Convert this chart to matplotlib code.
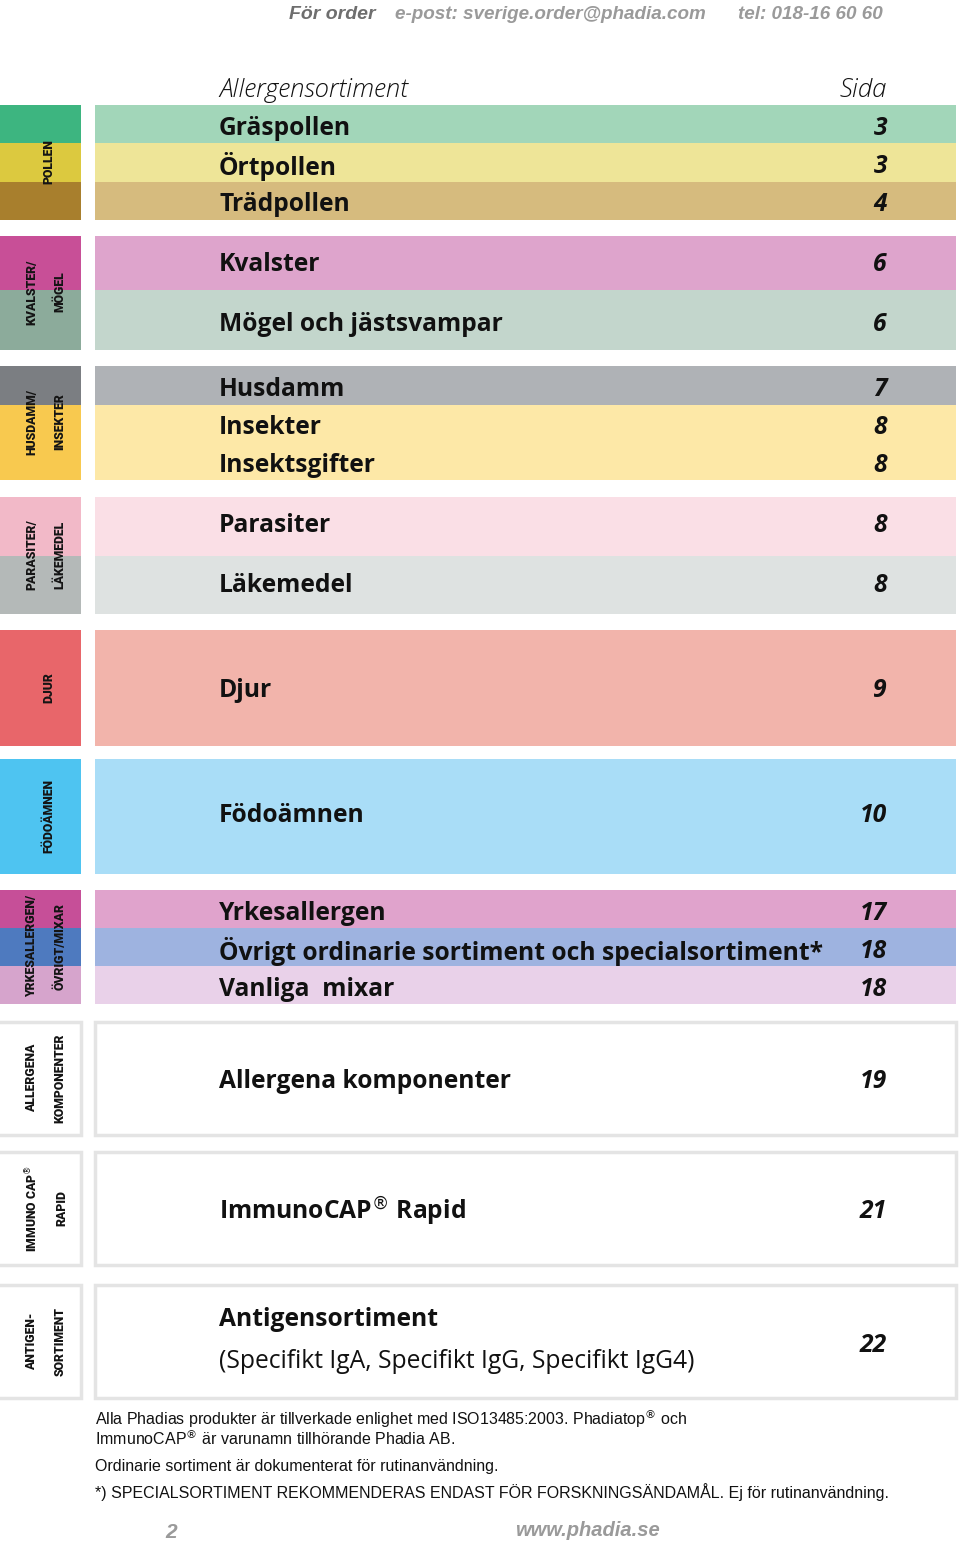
import matplotlib
matplotlib.use("Agg")
import matplotlib.pyplot as plt
from matplotlib.patches import Rectangle

# ---- data ----
group_labels = ['POLLEN', 'KVALSTER/\nMÖGEL', 'HUSDAMM/\nINSEKTER', 'PARASITER/\nLÄKEMEDEL',
                'DJUR', 'FÖDOÄMNEN', 'YRKESALLERGEN/\nÖVRIGT/MIXAR', 'ALLERGENA\nKOMPONENTER',
                'IMMUNO CAP$^{®}$\nRAPID', 'ANTIGEN-\nSORTIMENT']
item_names = ['Gräspollen', 'Örtpollen', 'Trädpollen', 'Kvalster', 'Mögel och jästsvampar',
              'Husdamm', 'Insekter', 'Insektsgifter', 'Parasiter', 'Läkemedel', 'Djur',
              'Födoämnen', 'Yrkesallergen', 'Övrigt ordinarie sortiment och specialsortiment*',
              'Vanliga  mixar', 'Allergena komponenter', 'ImmunoCAP$^{®}$ Rapid', 'Antigensortiment']
item_pages = ['3', '3', '4', '6', '6', '7', '8', '8', '8', '8', '9', '10', '17', '18', '18', '19', '21', '22']
antigen_sub = '(Specifikt IgA, Specifikt IgG, Specifikt IgG4)'

footer_lines = ['Alla Phadias produkter är tillverkade enlighet med ISO13485:2003. Phadiatop$^{®}$ och',
                'ImmunoCAP$^{®}$ är varunamn tillhörande Phadia AB.',
                'Ordinarie sortiment är dokumenterat för rutinanvändning.',
                '*) SPECIALSORTIMENT REKOMMENDERAS ENDAST FÖR FORSKNINGSÄNDAMÅL. Ej för rutinanvändning.']

# ---- layout (pixel coordinates) ----
# colour bands per group: (top, bottom, tab colour, main colour)
bands = [
    [(105, 143, '#3db580', '#a2d6b9'), (143, 182, '#dcc93f', '#eee598'), (182, 220, '#a87f2d', '#d6bb7e')],
    [(236, 290, '#c84f97', '#dea4cc'), (290, 350, '#8cab9b', '#c3d6cc')],
    [(366, 405, '#7b7e82', '#afb2b6'), (405, 480, '#f8c94f', '#fde8a7')],
    [(497, 556, '#f2b9c8', '#fadfe6'), (556, 614, '#b4b9b8', '#dee2e1')],
    [(630, 746, '#e8666a', '#f2b4ab')],
    [(759, 874, '#4ec4f1', '#a9ddf7')],
    [(890, 928, '#c64f98', '#e0a3cc'), (928, 966, '#4e7abf', '#9eb3e0'), (966, 1004, '#d6a4cc', '#e9d1e9')],
    [(1022, 1135, 'white', 'white')],
    [(1152, 1265, 'white', 'white')],
    [(1285, 1398, 'white', 'white')],
]
outlined = [False] * 7 + [True] * 3
label_y = [162, 292, 422, 555, 688, 816, 946, 1078, 1208, 1341]
item_y = [125, 163, 201, 261, 321, 386, 424, 462, 522, 582, 687, 812, 910, 948, 986, 1078, 1208, 1317]
page_y = item_y[:-1] + [1342]
dy = 3  # baseline nudge

TAB_L, TAB_R = 0, 81
MAIN_L, MAIN_R = 95, 956
TEXT_X, PAGE_X = 219, 887

bold_font = ['Open Sans', 'DejaVu Sans']
narrow_font = ['Liberation Sans', 'DejaVu Sans']
tab_font = ['Roboto', 'Liberation Sans', 'DejaVu Sans']

fig = plt.figure(figsize=(9.6, 15.49), dpi=100)
ax = fig.add_axes([0, 0, 1, 1])
ax.set_xlim(0, 960)
ax.set_ylim(1549, 0)
ax.axis('off')

for gi, blist in enumerate(bands):
    for top, bot, tcol, mcol in blist:
        h = bot - top
        ax.barh(top + h / 2, TAB_R - TAB_L, height=h, left=TAB_L, color=tcol, linewidth=0)
        ax.barh(top + h / 2, MAIN_R - MAIN_L, height=h, left=MAIN_L, color=mcol, linewidth=0)
    if outlined[gi]:
        top, bot = blist[0][0], blist[-1][1]
        for l, r in [(TAB_L - 2, TAB_R), (MAIN_L, MAIN_R)]:
            ax.add_patch(Rectangle((l, top), r - l, bot - top, fill=False,
                                   edgecolor='#e4e4e4', linewidth=2.5))
    lab = group_labels[gi]
    two = '\n' in lab
    ax.text(46 if two else 49, label_y[gi], lab, rotation=90, ha='center', va='center',
            multialignment='center', fontsize=8.8, fontweight='black', family=tab_font,
            color='#141414', linespacing=2.5)

for name, y in zip(item_names, item_y):
    ax.text(TEXT_X, y + dy, name, ha='left', va='center', fontsize=17.7, fontweight='bold',
            family=bold_font, color='#111111')
for p, y in zip(item_pages, page_y):
    ax.text(PAGE_X, y + dy, p, ha='right', va='center', fontsize=17.7, fontweight='bold',
            style='italic', family=bold_font, color='#111111')
ax.text(TEXT_X, 1358 + dy, antigen_sub, ha='left', va='center', fontsize=17.7,
        family=bold_font, color='#111111')

# header
ax.text(TEXT_X, 90, 'Allergensortiment', ha='left', va='center', fontsize=18.5,
        style='italic', fontweight='light', family=bold_font, color='#111111')
ax.text(PAGE_X, 90, 'Sida', ha='right', va='center', fontsize=18.5,
        style='italic', fontweight='light', family=bold_font, color='#111111')
ax.text(376, 14, 'För order', ha='right', va='center', fontsize=14, fontweight='bold',
        style='italic', family=narrow_font, color='#6e6e6e')
ax.text(395, 14, 'e-post: sverige.order@phadia.com', ha='left', va='center', fontsize=13.6,
        style='italic', fontweight='bold', family=narrow_font, color='#9a9a9a')
ax.text(883, 14, 'tel: 018-16 60 60', ha='right', va='center', fontsize=13.6,
        style='italic', fontweight='bold', family=narrow_font, color='#9a9a9a')

# footer
for txt, y in zip(footer_lines, [1419, 1438, 1466, 1492]):
    ax.text(MAIN_L, y, txt, ha='left', va='center', fontsize=11.5, family=narrow_font,
            color='#111111')
ax.text(171, 1533, '2', ha='center', va='center', fontsize=15, fontweight='bold',
        style='italic', family=narrow_font, color='#9a9a9a')
ax.text(587, 1531, 'www.phadia.se', ha='center', va='center', fontsize=14.5, fontweight='bold',
        style='italic', family=narrow_font, color='#9a9a9a')

fig.savefig('out.png', dpi=100)
